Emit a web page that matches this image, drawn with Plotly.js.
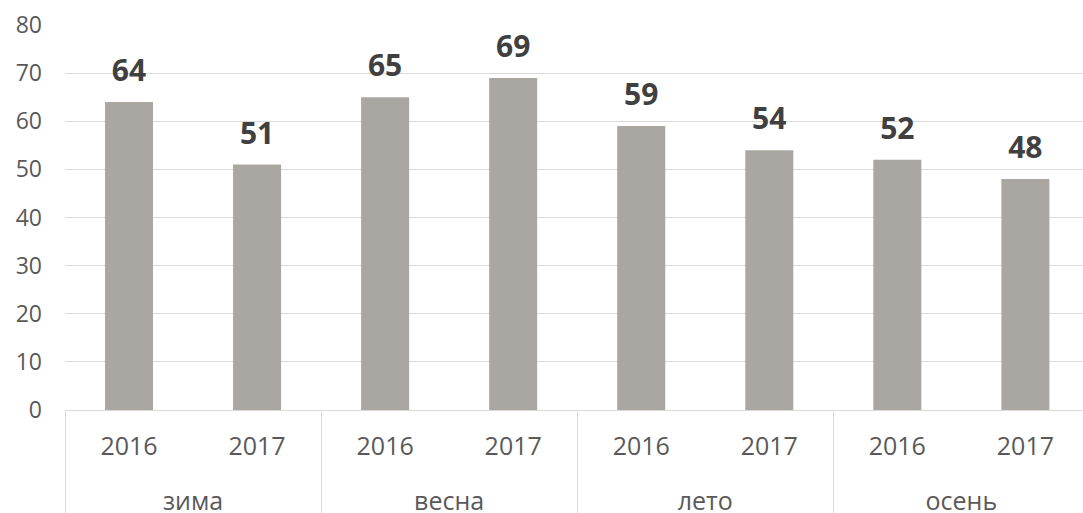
<!DOCTYPE html>
<html>
<head>
<meta charset="utf-8">
<script src="https://cdn.plot.ly/plotly-3.0.1.min.js"></script>
<style>html,body{margin:0;padding:0;background:#fff}#chart{width:1083px;height:513px}</style>
</head>
<body>
<div id="chart"></div>
<script>
const seasons = ['зима','зима','весна','весна','лето','лето','осень','осень'];
const years = ['2016','2017','2016','2017','2016','2017','2016','2017'];
const values = [64, 51, 65, 69, 59, 54, 52, 48];
const yTicks = [0, 10, 20, 30, 40, 50, 60, 70, 80];

// the outer category row sits one line lower in the reference
const seasonLabels = seasons.map(s => '<br>' + s);

const barTrace = {
  type: 'bar',
  x: [seasonLabels, years],
  y: values,
  marker: {color: '#AAA7A2'},
  hoverinfo: 'skip'
};
const labelTrace = {
  type: 'scatter',
  mode: 'markers+text',
  x: [seasonLabels, years],
  y: values,
  text: values.map(String),
  textposition: 'top center',
  textfont: {family: '"Open Sans", sans-serif', size: 30, weight: 'bold', color: '#404040'},
  marker: {size: 20, opacity: 0},
  cliponaxis: false,
  hoverinfo: 'skip'
};

const layout = {
  width: 1083, height: 513,
  margin: {l: 65, r: 0, t: 25, b: 103},
  paper_bgcolor: '#ffffff', plot_bgcolor: '#ffffff',
  showlegend: false,
  bargap: 0.625,
  font: {family: '"Open Sans", sans-serif', color: '#595959'},
  xaxis: {
    type: 'multicategory',
    range: [-0.5, 7.45],
    showdividers: true, dividercolor: '#D9D9D9', dividerwidth: 1,
    tickfont: {size: 25, color: '#595959'},
    showline: true, linecolor: '#D9D9D9', linewidth: 1,
    ticks: '', showgrid: false,
    ticklabelstandoff: 14
  },
  yaxis: {
    range: [0, 80],
    tickvals: yTicks,
    gridcolor: '#D9D9D9', gridwidth: 1,
    zeroline: false, showline: false,
    tickfont: {size: 23, color: '#595959'},
    ticklabelstandoff: 22
  }
};

Plotly.newPlot('chart', [barTrace, labelTrace], layout, {staticPlot: true});
</script>
</body>
</html>
